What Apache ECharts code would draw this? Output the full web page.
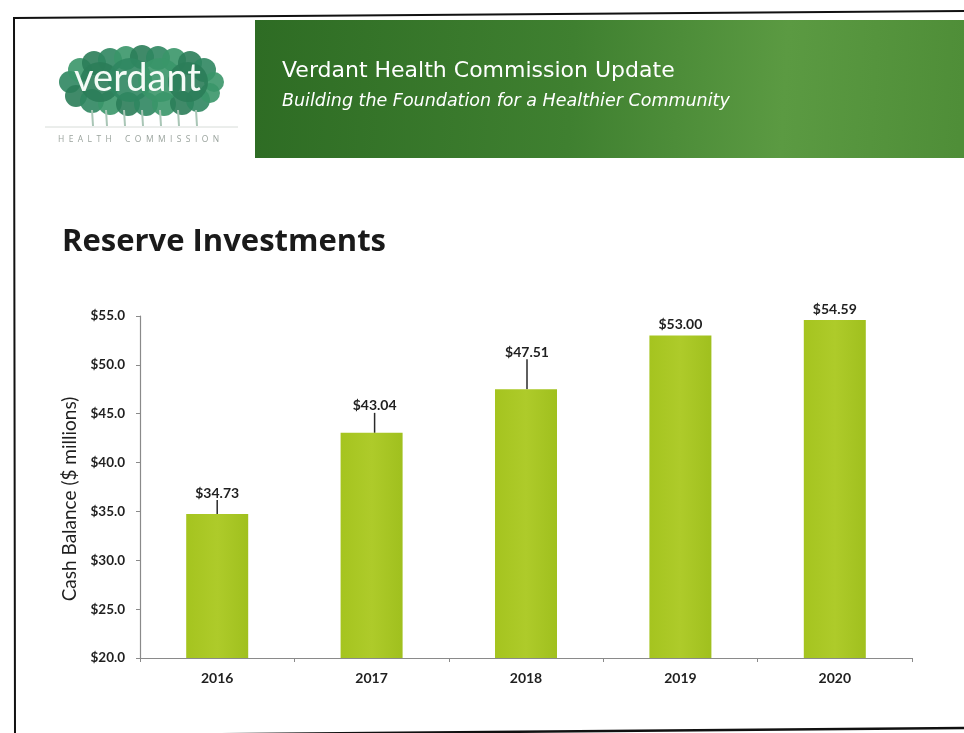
<!DOCTYPE html>
<html>
<head>
<meta charset="utf-8">
<title>Reserve Investments</title>
<script src="https://cdn.jsdelivr.net/npm/echarts@6/dist/echarts.min.js"></script>
<style>
  html, body { margin: 0; padding: 0; background: #ffffff; }
  #chart { width: 964px; height: 733px; }
</style>
</head>
<body>
<div id="chart"></div>
<script>
// Year-end reserve balances, in $ millions
const years = ['2016', '2017', '2018', '2019', '2020'];
const cashBalance = [34.73, 43.04, 47.51, 53.00, 54.59];
const yTicks = [20, 25, 30, 35, 40, 45, 50, 55];

// How far each value label is lifted above its bar (px); lifted labels get a leader line
const labelLift = [-10, -16, -26, 0, 0];
const labelShift = [0, 3, 1, 0, 0];

const chart = echarts.init(document.getElementById('chart'), null, { renderer: 'canvas' });

const ink = '#1f1f1f';
const bodyFont = 'Lato, "Open Sans", sans-serif';

// Tree canopy blobs behind the "verdant" wordmark
const canopy = [
  [70, 82, 11], [80, 70, 12], [94, 63, 12], [110, 60, 12], [126, 58, 12],
  [142, 57, 12], [158, 58, 12], [174, 60, 12], [190, 63, 12], [204, 70, 12],
  [214, 82, 10], [76, 96, 11], [92, 101, 12], [110, 103, 12], [128, 104, 12],
  [146, 104, 12], [164, 104, 12], [182, 103, 12], [198, 100, 12], [210, 93, 10],
  [100, 82, 20], [130, 80, 22], [160, 80, 22], [188, 82, 20]
];
const canopyShapes = canopy.map(function (c, i) {
  return {
    type: 'circle',
    shape: { cx: c[0], cy: c[1], r: c[2] },
    style: { fill: i % 3 === 0 ? '#2f8660' : (i % 3 === 1 ? '#3a9669' : '#2b7d59'), opacity: 0.9 },
    silent: true
  };
});
const trunks = [92, 106, 124, 142, 160, 178, 196].map(function (x) {
  return {
    type: 'line',
    shape: { x1: x, y1: 110, x2: x + 1, y2: 126 },
    style: { stroke: '#a9c6b6', lineWidth: 2 },
    silent: true
  };
});

const option = {
  backgroundColor: '#ffffff',
  animation: false,
  grid: { left: 140, right: 52, top: 316, bottom: 75, containLabel: false },
  xAxis: {
    type: 'category',
    data: years,
    axisLine: { show: true, lineStyle: { color: '#8a8a8a', width: 1.2 } },
    axisTick: { show: true, length: 4, lineStyle: { color: '#8a8a8a' } },
    axisLabel: {
      color: ink, fontFamily: bodyFont, fontWeight: 'bold', fontSize: 14, margin: 13
    }
  },
  yAxis: {
    type: 'value',
    min: yTicks[0],
    max: yTicks[yTicks.length - 1],
    interval: yTicks[1] - yTicks[0],
    name: 'Cash Balance ($ millions)',
    nameLocation: 'middle',
    nameGap: 58,
    nameRotate: 90,
    nameTextStyle: { color: ink, fontFamily: bodyFont, fontSize: 19, padding: [0, 24, 0, 0] },
    axisLine: { show: true, lineStyle: { color: '#8a8a8a', width: 1.2 } },
    axisTick: { show: true, length: 4, lineStyle: { color: '#8a8a8a' } },
    splitLine: { show: false },
    axisLabel: {
      color: ink, fontFamily: bodyFont, fontWeight: 'bold', fontSize: 13.5, margin: 15,
      formatter: function (v) { return '$' + v.toFixed(1); }
    }
  },
  series: [{
    type: 'bar',
    data: cashBalance.map(function (v, i) {
      return { value: v, labelLine: { show: labelLift[i] !== 0 } };
    }),
    barWidth: 62,
    itemStyle: {
      color: new echarts.graphic.LinearGradient(0, 0, 1, 0, [
        { offset: 0, color: '#a5c41f' },
        { offset: 0.5, color: '#aecb2a' },
        { offset: 1, color: '#a0c01e' }
      ])
    },
    label: {
      show: true,
      position: 'top',
      distance: 4,
      color: ink,
      fontFamily: bodyFont,
      fontWeight: 'bold',
      fontSize: 14,
      formatter: function (p) { return '$' + p.value.toFixed(2); }
    },
    labelLayout: function (p) {
      return { dy: labelLift[p.dataIndex], dx: labelShift[p.dataIndex] };
    },
    labelLine: { show: true, lineStyle: { color: '#2a2a2a', width: 1.5 } }
  }],
  graphic: [
    // slide frame
    { type: 'polyline', shape: { points: [[964, 11], [14, 18], [15, 735]] },
      style: { stroke: '#111', lineWidth: 2, fill: null }, silent: true },
    { type: 'line', shape: { x1: 14, y1: 736, x2: 964, y2: 728 },
      style: { stroke: '#111', lineWidth: 2.5 }, silent: true },
    // green header banner
    { type: 'rect', shape: { x: 255, y: 20, width: 709, height: 138 },
      style: {
        fill: new echarts.graphic.LinearGradient(0, 0, 1, 0.3, [
          { offset: 0, color: '#2e6c24' },
          { offset: 0.45, color: '#3f8030' },
          { offset: 0.75, color: '#5b9a42' },
          { offset: 1, color: '#4f8e38' }
        ])
      }, silent: true },
    { type: 'text', left: 282, top: 60,
      style: { text: 'Verdant Health Commission Update', fill: '#ffffff',
        font: '22px "DejaVu Sans", sans-serif' }, silent: true },
    { type: 'text', left: 282, top: 92,
      style: { text: 'Building the Foundation for a Healthier Community', fill: '#ffffff',
        font: 'oblique 17.5px "DejaVu Sans", sans-serif' }, silent: true },
    // logo
    { type: 'group', children: canopyShapes.concat(trunks) },
    { type: 'text', left: 74, top: 60,
      style: { text: 'verdant', fill: '#f4fbf6', font: '38px Lato, sans-serif' }, silent: true },
    { type: 'line', shape: { x1: 45, y1: 127, x2: 238, y2: 127 },
      style: { stroke: '#d7dcd8', lineWidth: 1 }, silent: true },
    { type: 'text', left: 58, top: 135,
      style: { text: 'H  E  A  L  T  H      C  O  M  M  I  S  S  I  O  N', fill: '#9aa39d',
        font: '8.5px "Open Sans", sans-serif' }, silent: true },
    // slide title
    { type: 'text', left: 62, top: 227,
      style: { text: 'Reserve Investments', fill: '#1a1a1a',
        font: 'bold 31px "Open Sans", sans-serif' }, silent: true }
  ]
};

chart.setOption(option);
</script>
</body>
</html>
